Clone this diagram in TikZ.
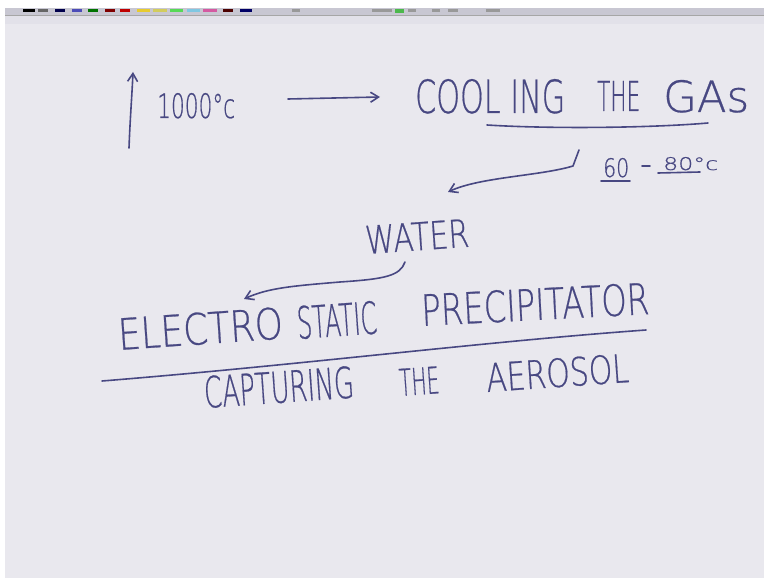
\documentclass[tikz,border=0pt]{standalone}
\usepackage{fontspec}
\IfFontExistsTF{DejaVu Sans ExtraLight}{\newfontfamily\hand[FakeBold=0.6]{DejaVu Sans ExtraLight}}{\newfontfamily\hand{Liberation Sans}}
\usetikzlibrary{arrows.meta}
\definecolor{ink}{RGB}{72,72,130}
\definecolor{board}{RGB}{233,232,238}
\definecolor{barc}{RGB}{200,199,210}
\definecolor{barlight}{RGB}{226,225,233}
\newcommand{\hwtext}[3]{\resizebox{#1pt}{#2pt}{\hand #3}}
\tikzset{
  hw/.style={text=ink, inner sep=0pt, anchor=base west},
  pen/.style={draw=ink, line width=1.6pt, line cap=round, line join=round},
  barb/.style={-{Straight Barb[length=8pt,width=10pt,line width=1.6pt]}},
  swatch/.style={fill=#1, draw=none}
}
\begin{document}
\begin{tikzpicture}[x=1pt,y=-1pt]
\useasboundingbox (0,0) rectangle (764,580);
% board and toolbar
\fill[white] (0,0) rectangle (764,580);
\fill[board] (5,16) rectangle (764,578);
\fill[barlight] (5,15) rectangle (764,24);
\fill[barc] (5,8) rectangle (764,15);
\draw[black!35, line width=0.6pt] (5,15) -- (764,15);
\foreach \xa/\xb/\c in {23/35/black, 38/48/black!60, 55/65/black!70!blue, 72/82/blue!60!black!70, 88/98/green!45!black, 105/115/red!50!black, 120/130/red!75!black, 137/150/yellow!60!brown, 153/167/yellow!70!white!80!black, 170/183/green!60!white!85!black, 187/200/cyan!50!white!90!black, 203/217/magenta!70!white!85!black, 223/233/red!30!black, 240/252/blue!40!black}
  \fill[swatch=\c] (\xa,9) rectangle (\xb,12.5);
\foreach \xa/\xb in {292/300, 372/392, 408/416, 432/440, 448/458, 486/500}
  \fill[black!40] (\xa,9.5) rectangle (\xb,12.5);
\fill[green!60!black!70] (395,9.5) rectangle (404,13);

% up arrow and 1000 C
\coordinate (upb) at (129,148);
\coordinate (upt) at (133,72);
\draw[pen, barb] (upb) .. controls (130,120) and (132,95) .. (upt);
\node[hw] (t1000) at (157,118) {\hwtext{78}{25}{1000°c}};

% right arrow
\coordinate (ra) at (288,99);
\coordinate (rb) at (380,97);
\draw[pen, barb] (ra) -- (rb);

% cooling the gas
\node[hw] (cool) at (415,113) {\hwtext{150}{34}{COOL ING}};
\node[hw] (the1) at (597,111) {\hwtext{43}{30}{THE}};
\node[hw] (gas) at (663,112) {\hwtext{86}{32}{GAs}};
\coordinate (ul1) at (487,125);
\coordinate (ul2) at (708,123);
\draw[pen] (ul1) .. controls (550,129) and (650,128) .. (ul2);

% temperature range
\node[hw] (t60) at (603,177) {\hwtext{26}{19}{60}};
\coordinate (u60a) at (601,181);
\coordinate (u60b) at (630,181);
\draw[pen] (u60a) -- (u60b);
\coordinate (da) at (642,166);
\coordinate (db) at (650,166);
\draw[pen] (da) -- (db);
\node[hw] (t80) at (663,170) {\hwtext{55}{13}{80°c}};
\coordinate (u80a) at (658,173);
\coordinate (u80b) at (700,172);
\draw[pen] (u80a) -- (u80b);

% arrow to water
\coordinate (a1s) at (579,150);
\coordinate (a1k) at (573,166);
\coordinate (a1e) at (448,192);
\draw[pen, barb] (a1s) -- (a1k) .. controls (540,176) and (480,177) .. (a1e);

% water
\node[hw, rotate=4] (water) at (366,254) {\hwtext{104}{28}{WATER}};

% arrow to ESP
\coordinate (a2s) at (405,262);
\coordinate (a2e) at (244,299);
\draw[pen, barb] (a2s) .. controls (400,276) and (385,279) .. (340,282)
  .. controls (292,286) and (268,288) .. (a2e);

% electro static precipitator
\node[hw, rotate=4] (electro) at (119,350) {\hwtext{165}{32}{ELECTRO}};
\node[hw, rotate=4] (static) at (298,339) {\hwtext{80}{33}{STATIC}};
\node[hw, rotate=3] (precip) at (422,326) {\hwtext{228}{32}{PRECIPITATOR}};

% long line
\coordinate (l1) at (102,381);
\coordinate (l2) at (646,330);
\draw[pen] (l1) .. controls (300,365) and (480,342) .. (l2);

% capturing the aerosol
\node[hw, rotate=4] (capt) at (205,408) {\hwtext{150}{32}{CAPTURING}};
\node[hw, rotate=4] (the2) at (400,396) {\hwtext{40}{27}{THE}};
\node[hw, rotate=4] (aero) at (487,392) {\hwtext{143}{29}{AEROSOL}};
\end{tikzpicture}
\end{document}
